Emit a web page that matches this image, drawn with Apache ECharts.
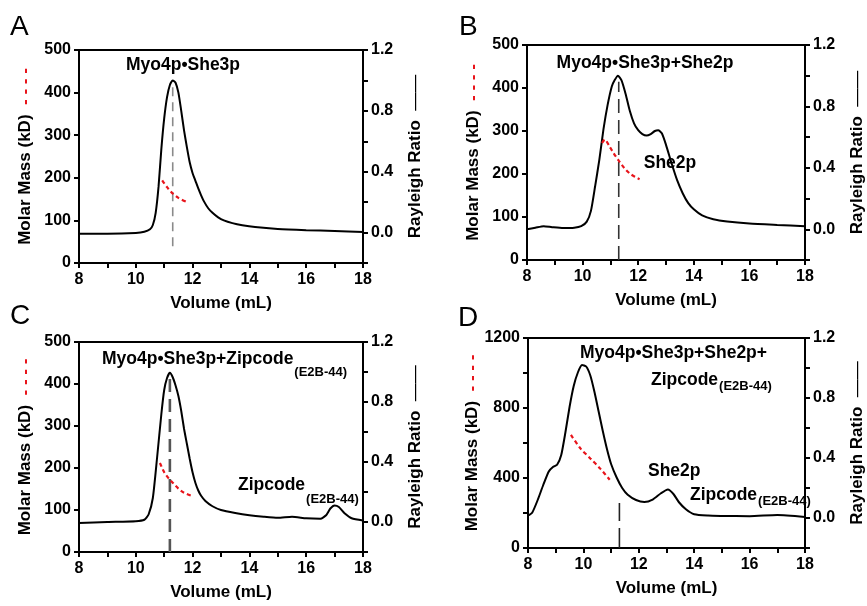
<!DOCTYPE html>
<html><head><meta charset="utf-8">
<script src="https://cdn.jsdelivr.net/npm/echarts@6/dist/echarts.min.js"></script>
<style>html,body{margin:0;padding:0;background:#fff}#c{width:867px;height:606px}</style>
</head><body><div id="c"></div>
<script>
// ---- Data ----
const xTicks = [8, 10, 12, 14, 16, 18];
// Panel A
const volA = [8, 9, 10, 10.3, 10.5, 10.6, 10.7, 10.8, 10.9, 11.0, 11.1, 11.2, 11.3, 11.4, 11.5, 11.6, 11.7, 11.8, 11.9, 12.0, 12.1, 12.2, 12.3, 12.4, 12.55, 12.7, 12.9, 13.1, 13.4, 13.75, 14.2, 15, 16, 17, 18];
const rayA = [-0.008, -0.008, -0.003, 0.005, 0.022, 0.05, 0.13, 0.3, 0.55, 0.75, 0.89, 0.97, 1.0, 0.985, 0.92, 0.8, 0.67, 0.56, 0.46, 0.39, 0.34, 0.29, 0.245, 0.205, 0.16, 0.13, 0.1, 0.08, 0.062, 0.048, 0.036, 0.024, 0.016, 0.01, 0.004];
const mmVolA = [10.93, 11.1, 11.3, 11.5, 11.77];
const mmA = [194, 178, 163, 153, 144];
const peakA = [11.3, -0.09, 0.98];
// Panel B
const volB = [8, 8.3, 8.6, 8.9, 9.3, 9.7, 9.95, 10.15, 10.3, 10.45, 10.6, 10.75, 10.9, 11.05, 11.15, 11.27, 11.4, 11.55, 11.7, 11.85, 12.0, 12.15, 12.3, 12.45, 12.6, 12.72, 12.85, 13.0, 13.2, 13.4, 13.6, 13.8, 14.0, 14.3, 14.7, 15.2, 16, 17, 18];
const rayB = [0.0, 0.01, 0.02, 0.014, 0.008, 0.01, 0.02, 0.05, 0.12, 0.28, 0.45, 0.65, 0.81, 0.93, 0.97, 1.0, 0.97, 0.88, 0.77, 0.69, 0.645, 0.62, 0.61, 0.62, 0.64, 0.645, 0.625, 0.55, 0.43, 0.32, 0.235, 0.17, 0.13, 0.09, 0.065, 0.05, 0.037, 0.028, 0.02];
const mmVolB = [10.7, 10.8, 10.95, 11.1, 11.3, 11.5, 11.7, 11.9, 12.05];
const mmB = [272, 280, 266, 250, 231, 214, 201, 193, 188];
const peakB = [11.3, -0.2, 0.96];
// Panel C
const volC = [8, 9, 10, 10.3, 10.45, 10.6, 10.75, 10.9, 11.0, 11.1, 11.2, 11.3, 11.4, 11.5, 11.6, 11.7, 11.8, 11.9, 12.0, 12.1, 12.2, 12.3, 12.45, 12.7, 13.0, 13.5, 14, 14.5, 15, 15.5, 16, 16.5, 16.7, 16.85, 17.0, 17.15, 17.35, 17.6, 18];
const rayC = [-0.006, 0.0, 0.005, 0.015, 0.05, 0.16, 0.43, 0.72, 0.88, 0.96, 0.995, 0.965, 0.91, 0.84, 0.74, 0.62, 0.52, 0.42, 0.33, 0.26, 0.21, 0.175, 0.14, 0.105, 0.08, 0.06, 0.045, 0.035, 0.028, 0.035, 0.025, 0.022, 0.045, 0.09, 0.11, 0.1, 0.058, 0.025, 0.01];
const mmVolC = [10.85, 11.0, 11.15, 11.3, 11.5, 11.7, 12.0];
const mmC = [212, 190, 176, 165, 151, 141, 133];
const peakC = [11.2, -0.2, 0.99];
// Panel D
const volD = [8, 8.15, 8.35, 8.55, 8.75, 8.9, 9.05, 9.2, 9.35, 9.5, 9.65, 9.8, 9.95, 10.1, 10.25, 10.4, 10.55, 10.7, 10.85, 11.0, 11.2, 11.4, 11.6, 11.9, 12.2, 12.5, 12.8, 13.05, 13.25, 13.45, 13.7, 14.0, 14.5, 15, 16, 17, 18];
const rayD = [0.016, 0.035, 0.12, 0.22, 0.31, 0.34, 0.355, 0.42, 0.57, 0.74, 0.88, 0.97, 1.02, 1.01, 0.95, 0.84, 0.71, 0.58, 0.46, 0.36, 0.27, 0.2, 0.155, 0.12, 0.107, 0.123, 0.165, 0.19, 0.16, 0.105, 0.058, 0.025, 0.016, 0.014, 0.012, 0.02, 0.007];
const mmVolD = [9.55, 9.9, 10.25, 10.6, 10.95];
const mmD = [646, 568, 512, 455, 390];
const peakD = [11.3, -0.2, 0.1];

const FONT = '"Liberation Sans", Arial, sans-serif';
const zip = (a, b) => a.map((v, i) => [v, b[i]]);

const panels = [
  {vol: volA, ray: rayA, mv: mmVolA, mm: mmA, peak: peakA, mmMax: 500, mmInt: 100, mmLab: 100, dash: [9, 6], dcol: '#8a8a8a', dw: 1.6,
   grid: {left: 79, top: 50, right: 504, bottom: 343}},
  {vol: volB, ray: rayB, mv: mmVolB, mm: mmB, peak: peakB, mmMax: 500, mmInt: 100, mmLab: 100, dash: [14, 7], dcol: '#333', dw: 1.6,
   grid: {left: 527, top: 45, right: 57, bottom: 346}},
  {vol: volC, ray: rayC, mv: mmVolC, mm: mmC, peak: peakC, mmMax: 500, mmInt: 100, mmLab: 100, dash: [13, 7], dcol: '#555', dw: 2.6,
   grid: {left: 79, top: 342, right: 504, bottom: 54}},
  {vol: volD, ray: rayD, mv: mmVolD, mm: mmD, peak: peakD, mmMax: 1200, mmInt: 200, mmLab: 400, dash: [20, 7], dcol: '#222', dw: 1.6,
   grid: {left: 528, top: 338, right: 56, bottom: 58}}
];

const lab = {color: '#000', fontSize: 16, fontWeight: 'bold', fontFamily: FONT};
const axLine = {show: true, onZero: false, lineStyle: {color: '#000', width: 2}};
const axTick = {show: true, inside: false, length: 5, lineStyle: {color: '#000', width: 2}};
const nameStyle = {
  color: '#000', fontSize: 17, fontWeight: 'bold', fontFamily: FONT,
  rich: {
    t: {fontSize: 17, fontWeight: 'bold', color: '#000', fontFamily: FONT},
    r: {fontSize: 17, fontWeight: 'bold', color: '#e8141b', fontFamily: FONT},
    l: {fontSize: 18, fontWeight: 'normal', color: '#000', fontFamily: FONT}
  }
};

const grids = [], xAxes = [], yAxes = [], series = [];
panels.forEach((p, i) => {
  grids.push(Object.assign({show: true, borderColor: '#000', borderWidth: 2, containLabel: false}, p.grid));
  xAxes.push({
    type: 'value', gridIndex: i, min: 8, max: 18, interval: 1,
    axisLine: axLine, axisTick: axTick, splitLine: {show: false},
    axisLabel: Object.assign({margin: 9, formatter: v => xTicks.includes(v) ? String(v) : ''}, lab),
    name: 'Volume (mL)', nameLocation: 'middle', nameGap: 32, nameTextStyle: nameStyle
  });
  yAxes.push({
    type: 'value', gridIndex: i, position: 'left', min: 0, max: p.mmMax, interval: p.mmInt,
    axisLine: axLine, axisTick: axTick, splitLine: {show: false},
    axisLabel: Object.assign({margin: 8, formatter: v => (v % p.mmLab === 0) ? String(v) : ''}, lab),
    name: '{t|Molar Mass (kD)}  {r|- - - -}', nameLocation: 'middle', nameRotate: 90, nameGap: 45, nameTextStyle: nameStyle
  });
  yAxes.push({
    type: 'value', gridIndex: i, position: 'right', min: -0.2, max: 1.2, interval: 0.2,
    axisLine: axLine, axisTick: axTick, splitLine: {show: false},
    axisLabel: Object.assign({margin: 8, formatter: v => {
      const k = Math.round(v * 10);
      return (k >= 0 && k % 4 === 0) ? (k / 10).toFixed(1) : '';
    }}, lab),
    name: '{t|Rayleigh Ratio}  {l|——}', nameLocation: 'middle', nameRotate: 90, nameGap: 43, nameTextStyle: nameStyle
  });
  series.push({
    type: 'line', xAxisIndex: i, yAxisIndex: 2 * i + 1, data: zip(p.vol, p.ray),
    smooth: 0.2, showSymbol: false, symbol: 'none', lineStyle: {color: '#000', width: 2}, z: 3, silent: true
  });
  series.push({
    type: 'line', xAxisIndex: i, yAxisIndex: 2 * i, data: zip(p.mv, p.mm),
    smooth: 0.3, showSymbol: false, symbol: 'none', lineStyle: {color: '#e8141b', width: 2.2, type: [4, 3]}, z: 4, silent: true
  });
  series.push({
    type: 'line', xAxisIndex: i, yAxisIndex: 2 * i + 1, data: [[p.peak[0], p.peak[1]], [p.peak[0], p.peak[2]]],
    showSymbol: false, symbol: 'none', lineStyle: {color: p.dcol, width: p.dw, type: p.dash}, z: 2, silent: true
  });
});

const big = {fontSize: 28, fontWeight: 'normal', fill: '#000', fontFamily: FONT};
const ann = {fontSize: 17.5, fontWeight: 'bold', fill: '#000', fontFamily: FONT};
const sub = {fontSize: 13, fontWeight: 'bold', fill: '#000', fontFamily: FONT};
const mctx = document.createElement('canvas').getContext('2d');
function tw(text, st) {
  mctx.font = st.fontWeight + ' ' + st.fontSize + 'px ' + FONT;
  return mctx.measureText(text).width;
}
function T(x, y, text, st, align) {
  return {type: 'text', x: x, y: y, z: 10, style: Object.assign({text: text, textAlign: align || 'left', textVerticalAlign: 'middle'}, st)};
}
// main text followed by a lowered subscript
function TS(x, y, main, subText, dy) {
  return [T(x, y, main, ann), T(x + tw(main, ann) + 1, y + dy, subText, sub)];
}
const graphic = [
  T(10, 27, 'A', big), T(459, 27, 'B', big), T(10, 316, 'C', big), T(458, 318, 'D', big),
  T(183, 65, 'Myo4p•She3p', ann, 'center'),
  T(645, 63, 'Myo4p•She3p+She2p', ann, 'center'),
  T(670, 163, 'She2p', ann, 'center'),
  ...TS(102, 359, 'Myo4p•She3p+Zipcode', '(E2B-44)', 13),
  ...TS(238, 485, 'Zipcode', '(E2B-44)', 14),
  T(580, 353, 'Myo4p•She3p+She2p+', ann),
  ...TS(651, 380, 'Zipcode', '(E2B-44)', 6),
  T(648, 471, 'She2p', ann),
  ...TS(690, 495, 'Zipcode', '(E2B-44)', 6)
];

const chart = echarts.init(document.getElementById('c'), null, {renderer: 'canvas'});
chart.setOption({
  animation: false,
  backgroundColor: '#fff',
  grid: grids, xAxis: xAxes, yAxis: yAxes, series: series, graphic: graphic
});
</script></body></html>
